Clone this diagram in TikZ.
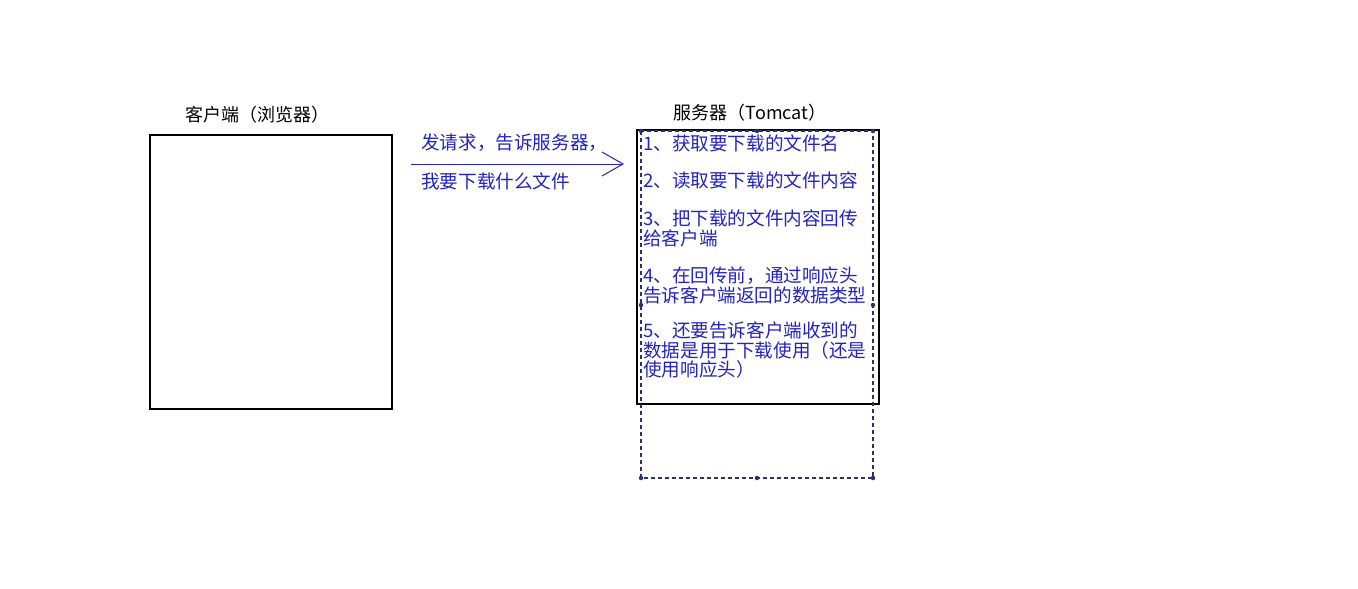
\documentclass[tikz,border=0pt]{standalone}
\usepackage{fontspec}
\usepackage{xcolor}
\usepackage{tikz}
\usetikzlibrary{arrows.meta}
\newfontfamily\cjk{Noto Sans CJK SC}
\definecolor{penblue}{RGB}{35,35,195}
\definecolor{frameblue}{RGB}{40,50,110}
\tikzset{
  box/.style={draw,line width=1.1pt,minimum width=242pt,minimum height=274pt,inner sep=0pt},
  title/.style={font=\cjk\fontsize{18}{19}\selectfont,inner sep=0pt},
  pen/.style={font=\cjk\fontsize{18.6}{19.2}\selectfont,text=penblue,inner sep=0pt,align=left},
  handle/.style={circle,fill=frameblue,inner sep=0pt,minimum size=4.5pt}
}
\begin{document}
\begin{tikzpicture}[x=1pt,y=-1pt]
\useasboundingbox[fill=white] (0,0) rectangle (1358,589);
% boxes
\node (client) at (271,272) [box] {};
\node (server) at (758,267) [box] {};
\node (clienttitle) at (257,115) [title] {客户端（浏览器）};
\node (servertitle) at (750,113) [title] {服务器（Tomcat）};
% dashed text frame
\draw[frameblue,dash pattern=on 4pt off 3pt,line width=1.1pt] (641,131) rectangle (873,478);
\foreach \hx/\hy in {641/131,757/131,873/131,641/305,873/305,641/478,757/478,873/478}
  \node at (\hx,\hy) [handle] {};
% request arrow
\coordinate (reqstart) at (411,164);
\coordinate (reqend) at (624,164);
\draw[penblue,line width=1pt,-{Straight Barb[length=21pt,width=24pt,line width=1pt]}] (reqstart) -- (reqend);
\node (req1) at (421,143) [pen,anchor=west] {发请求，告诉服务器，};
\node (req2) at (421,181) [pen,anchor=west] {我要下载什么文件};
% steps on the server
\node (step1) at (643,135) [pen,anchor=north west] {1、获取要下载的文件名};
\node (step2) at (643,172) [pen,anchor=north west] {2、读取要下载的文件内容};
\node (step3) at (643,210) [pen,anchor=north west] {3、把下载的文件内容回传\\给客户端};
\node (step4) at (643,267) [pen,anchor=north west] {4、在回传前，通过响应头\\告诉客户端返回的数据类型};
\node (step5) at (643,322) [pen,anchor=north west] {5、还要告诉客户端收到的\\数据是用于下载使用（还是\\使用响应头）};
\end{tikzpicture}
\end{document}
